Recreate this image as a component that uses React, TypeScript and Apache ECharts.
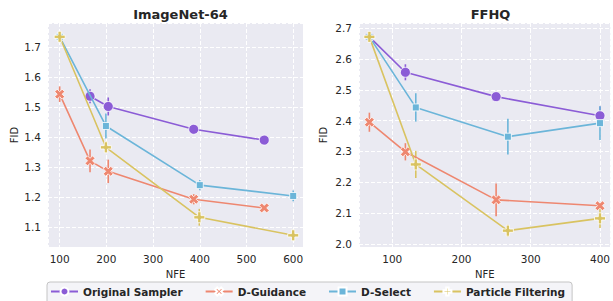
import React, { useEffect, useRef } from "react";
import * as echarts from "echarts";

// ---------- Data ----------
const seriesNames = ["Original Sampler", "D-Guidance", "D-Select", "Particle Filtering"];
const seriesColors = ["#8b5cd6", "#ee8770", "#6bb5d9", "#d9c361"];

// ImageNet-64
const inOrigX = [165, 204, 387, 538];
const inOrigY = [1.536, 1.502, 1.426, 1.39];
const inOrigE = [0.023, 0.03, 0.008, 0.005];

const inGuidX = [100, 165, 204, 387, 538];
const inGuidY = [1.543, 1.321, 1.286, 1.193, 1.164];
const inGuidE = [0.026, 0.038, 0.039, 0.017, 0.007];

const inSelX = [100, 199, 400, 600];
const inSelY = [1.734, 1.437, 1.24, 1.204];
const inSelE = [0.006, 0.042, 0.017, 0.018];

const inPfX = [100, 199, 399, 600];
const inPfY = [1.734, 1.366, 1.133, 1.073];
const inPfE = [0.006, 0.018, 0.028, 0.008];

// FFHQ
const ffOrigX = [67, 119, 250, 400];
const ffOrigY = [2.672, 2.557, 2.478, 2.416];
const ffOrigE = [0.006, 0.026, 0.008, 0.03];

const ffGuidX = [67, 119, 250, 400];
const ffGuidY = [2.395, 2.299, 2.143, 2.124];
const ffGuidE = [0.031, 0.028, 0.053, 0.008];

const ffSelX = [67, 134, 267, 400];
const ffSelY = [2.672, 2.443, 2.348, 2.392];
const ffSelE = [0.006, 0.046, 0.058, 0.055];

const ffPfX = [67, 134, 267, 400];
const ffPfY = [2.672, 2.258, 2.043, 2.083];
const ffPfE = [0.008, 0.044, 0.019, 0.031];

const titles = ["ImageNet-64", "FFHQ"];

// ---------- Styles ----------
const FONT = "DejaVu Sans";
const TEXT = "#262626";
const symX =
  "path://M0,2.5 L2.5,0 L5,2.5 L7.5,0 L10,2.5 L7.5,5 L10,7.5 L7.5,10 L5,7.5 L2.5,10 L0,7.5 L2.5,5 Z";
const symPlus =
  "path://M3.5,0 L6.5,0 L6.5,3.5 L10,3.5 L10,6.5 L6.5,6.5 L6.5,10 L3.5,10 L3.5,6.5 L0,6.5 L0,3.5 L3.5,3.5 Z";
const symbols = ["circle", symX, "rect", symPlus];
const symbolSizes = [10, 10, 7, 11];

export default function App() {
  const ref = useRef<HTMLDivElement>(null);

  useEffect(() => {
    if (!ref.current) return;
    const chart = echarts.init(ref.current, undefined, { renderer: "svg" });

    const panels = [
      [
        [inOrigX, inOrigY, inOrigE],
        [inGuidX, inGuidY, inGuidE],
        [inSelX, inSelY, inSelE],
        [inPfX, inPfY, inPfE],
      ],
      [
        [ffOrigX, ffOrigY, ffOrigE],
        [ffGuidX, ffGuidY, ffGuidE],
        [ffSelX, ffSelY, ffSelE],
        [ffPfX, ffPfY, ffPfE],
      ],
    ];

    const series: any[] = [];
    panels.forEach((panel, pi) => {
      panel.forEach(([xs, ys, es], si) => {
        const color = seriesColors[si];
        series.push({
          name: "err-" + pi + "-" + si,
          type: "custom",
          xAxisIndex: pi,
          yAxisIndex: pi,
          z: 2,
          data: xs.map((x: number, i: number) => [x, ys[i] - es[i], ys[i] + es[i]]),
          encode: { x: 0, y: [1, 2] },
          renderItem: (params: any, api: any) => {
            const p1 = api.coord([api.value(0), api.value(1)]);
            const p2 = api.coord([api.value(0), api.value(2)]);
            return {
              type: "line",
              shape: { x1: p1[0], y1: p1[1], x2: p2[0], y2: p2[1] },
              style: { stroke: color, lineWidth: 1.6 },
            };
          },
        });
        series.push({
          name: seriesNames[si],
          type: "line",
          xAxisIndex: pi,
          yAxisIndex: pi,
          z: 3 + si,
          data: xs.map((x: number, i: number) => [x, ys[i]]),
          symbol: symbols[si],
          symbolSize: symbolSizes[si],
          showAllSymbol: true,
          lineStyle: { color, width: 1.6 },
          itemStyle: { color, borderColor: "#ffffff", borderWidth: 0.8 },
          emphasis: { disabled: true },
        });
      });
    });

    const grids = [
      { left: 48, top: 23, width: 255, height: 224 },
      { left: 359, top: 23, width: 253, height: 224 },
    ];
    const xRanges = [
      [75, 621],
      [52, 415],
    ];
    const yRanges = [
      [1.034, 1.78],
      [1.99, 2.717],
    ];
    const yNameGaps = [29, 31];

    const option: any = {
      animation: false,
      textStyle: { fontFamily: FONT },
      title: titles.map((t, i) => ({
        text: t,
        left: grids[i].left + grids[i].width / 2,
        textAlign: "center",
        top: 3,
        textStyle: { fontFamily: FONT, fontSize: 13, fontWeight: "bold", color: TEXT },
      })),
      grid: grids.map((g) => ({
        ...g,
        show: true,
        backgroundColor: "#eaeaf2",
        borderWidth: 0,
        containLabel: false,
      })),
      xAxis: grids.map((g, i) => ({
        type: "value",
        gridIndex: i,
        min: xRanges[i][0],
        max: xRanges[i][1],
        minInterval: 100,
        maxInterval: 100,
        name: "NFE",
        nameLocation: "middle",
        nameGap: 22,
        nameTextStyle: { fontFamily: FONT, fontSize: 10, color: TEXT },
        axisLine: { show: false },
        axisTick: { show: false },
        axisLabel: {
          showMinLabel: false,
          showMaxLabel: false,
          fontFamily: FONT,
          fontSize: 10.5,
          color: TEXT,
          margin: 6,
        },
        splitLine: { show: true, lineStyle: { color: "#ffffff", type: [4, 2], width: 1 } },
      })),
      yAxis: grids.map((g, i) => ({
        type: "value",
        gridIndex: i,
        min: yRanges[i][0],
        max: yRanges[i][1],
        minInterval: 0.1,
        maxInterval: 0.1,
        name: "FID",
        nameLocation: "middle",
        nameGap: yNameGaps[i],
        nameTextStyle: { fontFamily: FONT, fontSize: 10, color: TEXT },
        axisLine: { show: false },
        axisTick: { show: false },
        axisLabel: {
          showMinLabel: false,
          showMaxLabel: false,
          fontFamily: FONT,
          fontSize: 10.5,
          color: TEXT,
          margin: 7,
          formatter: (v: number) => v.toFixed(1),
        },
        splitLine: { show: true, lineStyle: { color: "#ffffff", type: [4, 2], width: 1 } },
      })),
      legend: {
        data: seriesNames,
        left: 47,
        top: 282,
        orient: "horizontal",
        padding: [4, 7, 8, 3],
        itemWidth: 27,
        itemHeight: 10,
        itemGap: 22,
        backgroundColor: "#f4f4f8",
        borderColor: "#c4c4c4",
        borderWidth: 1,
        borderRadius: 3,
        selectedMode: false,
        textStyle: { fontFamily: FONT, fontSize: 10.5, fontWeight: "bold", color: TEXT },
      },
      series,
    };

    chart.setOption(option);
    return () => chart.dispose();
  }, []);

  return <div ref={ref} style={{ width: 613, height: 301, position: "absolute", left: 0, top: 0 }} />;
}
